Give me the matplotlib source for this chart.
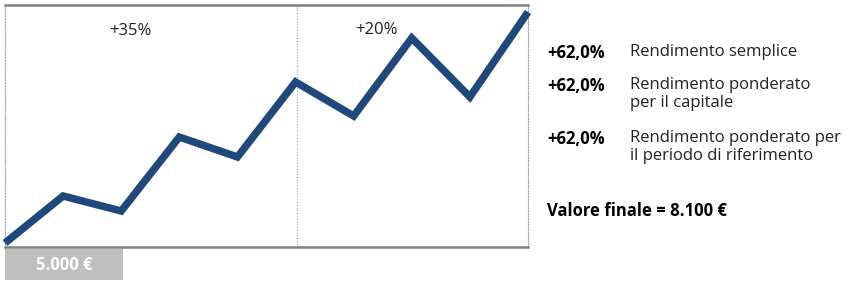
import matplotlib.pyplot as plt

# dati (indice di valore, unita arbitrarie)
periodi = list(range(10))
valori = [4, 51, 36, 110, 90, 165, 131, 209, 150, 235]
rendimenti_periodo = ["+35%", "+20%"]
etichette_rend = ["+62,0%", "+62,0%", "+62,0%"]
descr_rend = ["Rendimento semplice",
              "Rendimento ponderato\nper il capitale",
              "Rendimento ponderato per\nil periodo di riferimento"]
valore_iniziale = "5.000 €"
valore_finale = "Valore finale = 8.100 €"

plt.rcParams['font.family'] = ['Open Sans', 'DejaVu Sans']
grassetto = dict(family=['Open Sans', 'DejaVu Sans'], fontweight='bold',
                 fontstretch='normal')

W, H = 847, 285
fig = plt.figure(figsize=(W / 100, H / 100), dpi=100)
ax = fig.add_axes([5 / W, 1 - 247 / H, 523 / W, 242 / H])

ax.plot(periodi, valori, color='#1f497d', lw=5.4, solid_joinstyle='miter',
        solid_capstyle='butt', clip_on=False, zorder=3)
ax.axvline(5.02, color='#a0a0a0', lw=0.8, ls=(0, (1, 1.5)))
ax.set_xlim(0, 9)
ax.set_ylim(0, 242)
ax.set_xticks([])
ax.set_yticks([])
for s in ['top', 'bottom']:
    ax.spines[s].set_color('#808080')
    ax.spines[s].set_linewidth(1.8)
for s in ['left', 'right']:
    ax.spines[s].set_color('#a0a0a0')
    ax.spines[s].set_linewidth(0.8)
    ax.spines[s].set_linestyle((0, (1, 1.5)))

# etichette dei periodi
fig.text(130 / W, 1 - 31 / H, rendimenti_periodo[0], ha='center', va='center',
         fontsize=12, color='#222222')
fig.text(376 / W, 1 - 30 / H, rendimenti_periodo[1], ha='center', va='center',
         fontsize=12, color='#222222')

# riquadro valore iniziale
box = plt.Rectangle((5 / W, 1 - 280 / H), 118 / W, 31 / H, transform=fig.transFigure,
                    color='#bfbfbf', lw=0)
fig.patches.append(box)
fig.text(64 / W, 1 - 265 / H, valore_iniziale, ha='center', va='center',
         fontsize=12, color='white', **grassetto)

# testo a destra
y_pos = [53, 86, 139]
for y, et, de in zip(y_pos, etichette_rend, descr_rend):
    fig.text(547 / W, 1 - y / H, et, ha='left', va='center', fontsize=12,
             color='black', **grassetto)
    fig.text(630 / W, 1 - (y - 9) / H, de, ha='left', va='top', fontsize=12,
             color='#222222', linespacing=1.15)

fig.text(547 / W, 1 - 211 / H, valore_finale, ha='left', va='center', fontsize=12,
         color='black', **grassetto)

fig.savefig('out.png', dpi=100)
